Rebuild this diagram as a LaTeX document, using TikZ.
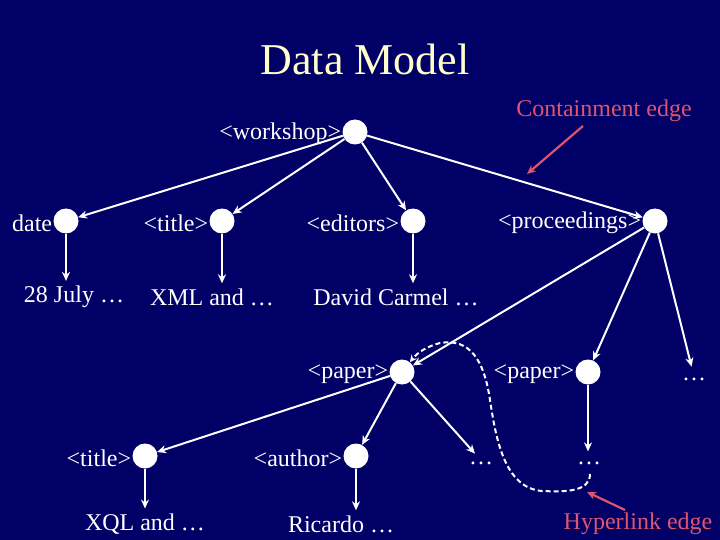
\documentclass[tikz,border=0pt]{standalone}
\usepackage{fontspec}
\setmainfont{Liberation Serif}
\usetikzlibrary{arrows.meta}
\definecolor{bg}{RGB}{0,0,102}
\definecolor{ttl}{RGB}{255,255,204}
\definecolor{lbl}{RGB}{222,86,110}
\begin{document}
\begin{tikzpicture}[x=1pt,y=-1pt,
  dot/.style={circle,fill=white,inner sep=0pt,minimum size=25pt},
  lab/.style={text=white,font=\fontsize{24}{28}\selectfont,inner sep=1pt},
  side/.style={lab,anchor=east,yshift=-2pt},
  edge/.style={white,line width=2pt,-{Stealth[length=9pt,width=8pt]}},
  hyper/.style={white,line width=2pt,dash pattern=on 5pt off 3pt,-{Stealth[length=7pt,width=7pt]}},
  redarrow/.style={lbl,line width=2.2pt,-{Stealth[length=9pt,width=8pt]}}]
\fill[bg] (0,0) rectangle (720,540);
\useasboundingbox (0,0) rectangle (720,540);
% title
\node[text=ttl,font=\fontsize{44}{50}\selectfont] (title) at (365,59) {Data Model};
% annotations
\node[lab,text=lbl] (cont) at (604,111) {Containment edge};
\node[lab,text=lbl] (hyp) at (638,524) {Hyperlink edge};
% dots
\node[dot] (w) at (355,132) {};
\node[dot] (d) at (66,221) {};
\node[dot] (t) at (222,221) {};
\node[dot] (ed) at (413,221) {};
\node[dot] (pr) at (655,221) {};
\node[dot] (p1) at (402,372) {};
\node[dot] (p2) at (588,372) {};
\node[dot] (t2) at (145,456) {};
\node[dot] (au) at (356,456) {};
% labels
\node[side] (wl) at (w.west) {<workshop>};
\node[side] (dl) at (d.west) {date};
\node[side] (tl) at (t.west) {<title>};
\node[side] (edl) at (ed.west) {<editors>};
\node[side] (prl) at (pr.west) {<proceedings>};
\node[side] (p1l) at (p1.west) {<paper>};
\node[side] (p2l) at (p2.west) {<paper>};
\node[side] (t2l) at (t2.west) {<title>};
\node[side] (aul) at (au.west) {<author>};
% leaves
\node[lab] (dv) at (74,297) {28 July …};
\node[lab] (tv) at (212,297) {XML and …};
\node[lab] (edv) at (396,297) {David Carmel …};
\node[lab] (e3) at (694,379) {…};
\node[lab] (e1) at (481,463) {…};
\node[lab] (e2) at (589,463) {…};
\node[lab] (t2v) at (145,524) {XQL and …};
\node[lab] (auv) at (341,524) {Ricardo …};
% containment edges
\draw[edge] (w) -- (d);
\draw[edge] (w) -- (t);
\draw[edge] (w) -- (ed);
\draw[edge] (w) -- (pr);
\draw[edge] (pr) -- (p1);
\draw[edge] (pr) -- (p2);
\draw[edge,shorten >=10pt] (pr) -- (e3.north);
\draw[edge] (p1) -- (t2);
\draw[edge] (p1) -- (au);
\draw[edge,shorten >=9pt] (p1) -- (e1.north);
\draw[edge,shorten >=4pt] (d) -- (d |- dv.north);
\draw[edge,shorten >=4pt] (t) -- (t |- tv.north);
\draw[edge,shorten >=4pt] (ed) -- (ed |- edv.north);
\draw[edge,shorten >=9pt] (p2) -- (p2 |- e2.north);
\draw[edge,shorten >=4pt] (t2) -- (t2 |- t2v.north);
\draw[edge,shorten >=4pt] (au) -- (au |- auv.north);
% hyperlink edge
\coordinate (hs) at (590,474);
\draw[hyper] (hs) .. controls (590,492) and (565,492) .. (542,491)
  .. controls (505,488) and (496,440) .. (490,400)
  .. controls (484,360) and (470,338) .. (440,343)
  .. controls (428,346) and (418,352) .. (p1);
% annotation arrows
\coordinate (ca1) at (583,126);
\coordinate (ca2) at (527,174);
\draw[redarrow] (ca1) -- (ca2);
\coordinate (ha1) at (625,510);
\coordinate (ha2) at (587,492);
\draw[redarrow] (ha1) -- (ha2);
\end{tikzpicture}
\end{document}
